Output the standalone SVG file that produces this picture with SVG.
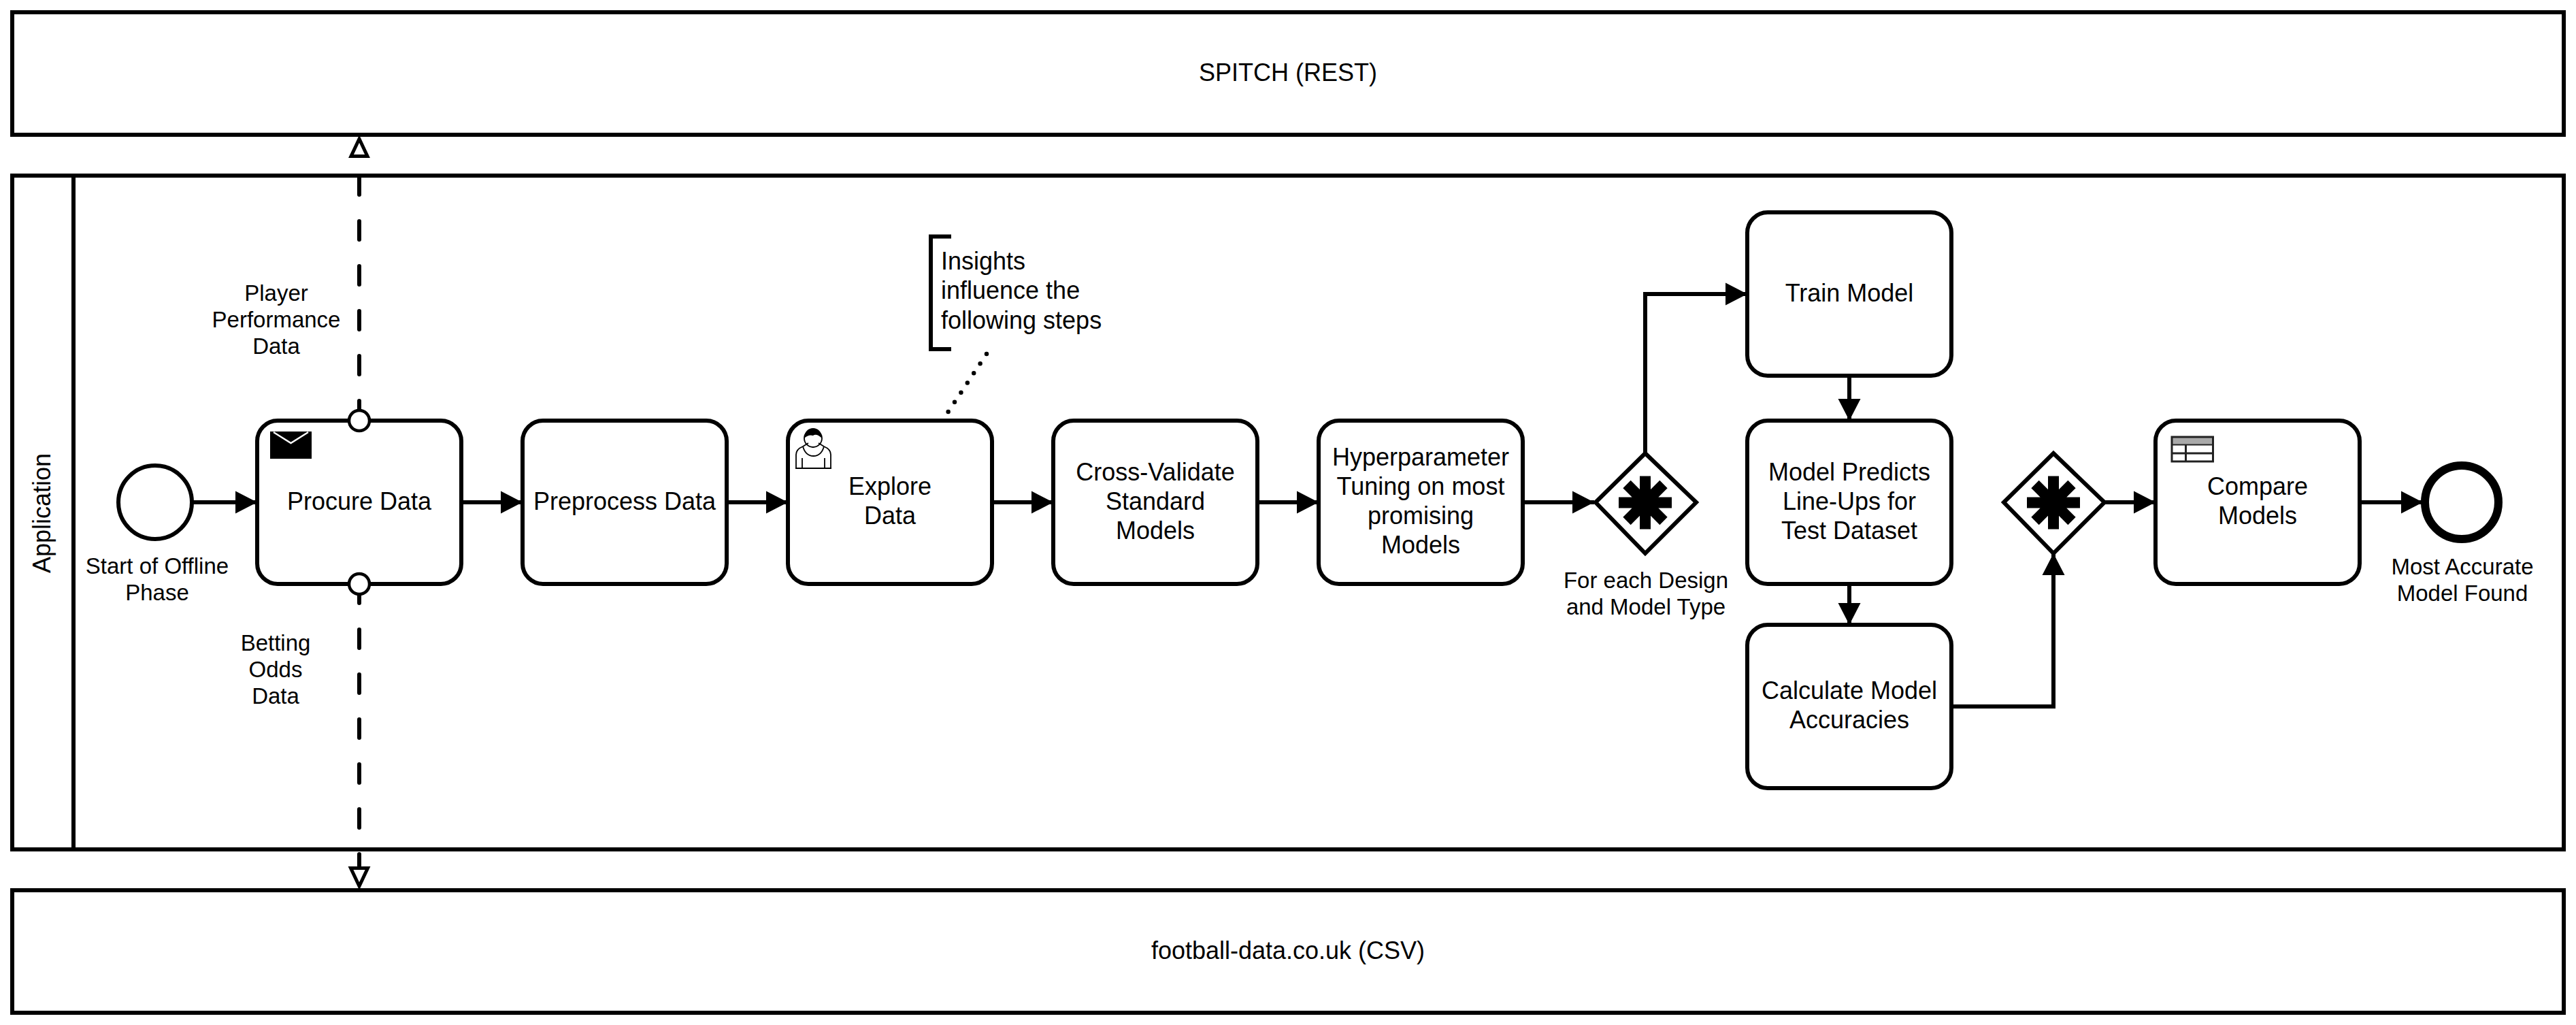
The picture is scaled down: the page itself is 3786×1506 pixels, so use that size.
<svg xmlns="http://www.w3.org/2000/svg" xmlns:xlink="http://www.w3.org/1999/xlink" width="3786" height="1506" viewBox="0 0 3786 1506">
<style>
text{font-family:"Liberation Sans",Arial,sans-serif;fill:#000;text-anchor:middle}
.t{font-size:36px}
.l{font-size:33px}
.note{text-anchor:start}
.box{fill:#fff;stroke:#000;stroke-width:6}
.task{fill:#fff;stroke:#000;stroke-width:6}
.flow{fill:none;stroke:#000;stroke-width:6;stroke-linejoin:miter}
.head{fill:#000;stroke:none}
.msg{fill:none;stroke:#000;stroke-width:6;stroke-linecap:round;stroke-dasharray:27 39}
.open{fill:#fff;stroke:#000;stroke-width:5;stroke-miterlimit:10}
.port{fill:#fff;stroke:#000;stroke-width:4.5}
.ic{fill:none;stroke:#000;stroke-width:1.8}
</style>
<defs>
<marker id="arrow" markerUnits="userSpaceOnUse" markerWidth="34" markerHeight="35" refX="32" refY="17" orient="auto"><path class="head" d="M0 0.500L32 17L0 33.500Z"/></marker>
<g id="star" stroke="#000" stroke-width="16" fill="none"><path d="M-39 0H39M0 -39V39M-27 -27L27 27M-27 27L27 -27"/></g>
</defs>
<rect width="3786" height="1506" fill="#fff"/>
<g id="pool-spitch"><rect class="box" x="18" y="18" width="3750" height="180"/><text class="t" x="1893" y="119">SPITCH (REST)</text></g>
<g id="pool-football"><rect class="box" x="18" y="1308" width="3750" height="180"/><text class="t" x="1893" y="1409">football-data.co.uk (CSV)</text></g>
<g id="pool-application"><rect class="box" x="18" y="258" width="3750" height="990"/><path class="flow" d="M108 258V1248"/><text class="t" transform="translate(74 754) rotate(-90)">Application</text></g>
<g id="connectors">
<path class="flow" marker-end="url(#arrow)" d="M282 738H378"/>
<path class="flow" marker-end="url(#arrow)" d="M678 738H768"/>
<path class="flow" marker-end="url(#arrow)" d="M1068 738H1158"/>
<path class="flow" marker-end="url(#arrow)" d="M1458 738H1548"/>
<path class="flow" marker-end="url(#arrow)" d="M1848 738H1938"/>
<path class="flow" marker-end="url(#arrow)" d="M2238 738H2343"/>
<path class="flow" marker-end="url(#arrow)" d="M2418 666V432H2568"/>
<path class="flow" marker-end="url(#arrow)" d="M2718 552V618"/>
<path class="flow" marker-end="url(#arrow)" d="M2718 858V918"/>
<path class="flow" marker-end="url(#arrow)" d="M2868 1038H3018V813"/>
<path class="flow" marker-end="url(#arrow)" d="M3093 738H3168"/>
<path class="flow" marker-end="url(#arrow)" d="M3468 738H3561"/>
<path class="msg" d="M528 259V601"/>
<path class="msg" style="stroke-dasharray:none" d="M528 873V886"/>
<path class="msg" d="M528 925V1272"/>
<polygon class="open" points="528,204 540,229.500 516,229.500"/>
<polygon class="open" points="528,1302 540.500,1275.500 515.500,1275.500"/>
<path fill="none" stroke="#000" stroke-width="6.500" stroke-linecap="round" stroke-dasharray="0 17" d="M1450 520L1387 615"/>
</g>
<g id="start"><circle cx="228" cy="738" r="54" fill="#fff" stroke="#000" stroke-width="6"/><text class="l" x="231" y="843">Start of Offline</text><text class="l" x="231" y="882">Phase</text></g>
<g id="procure"><rect class="task" x="378" y="618" width="300" height="240" rx="30"/>
<rect x="397" y="634" width="61" height="40" fill="#000"/><path d="M402 635L427.500 651L453 635" fill="none" stroke="#fff" stroke-width="2.500"/>
<text class="t" x="528" y="749">Procure Data</text>
<circle class="port" cx="528" cy="618" r="15"/><circle class="port" cx="528" cy="858" r="15"/></g>
<g id="label-player"><text class="l" x="406" y="442">Player</text><text class="l" x="406" y="481">Performance</text><text class="l" x="406" y="520">Data</text></g>
<g id="label-betting"><text class="l" x="405" y="956">Betting</text><text class="l" x="405" y="995">Odds</text><text class="l" x="405" y="1034">Data</text></g>
<g id="preprocess"><rect class="task" x="768" y="618" width="300" height="240" rx="30"/><text class="t" x="918" y="749">Preprocess Data</text></g>
<g id="explore"><rect class="task" x="1158" y="618" width="300" height="240" rx="30"/>
<path class="ic" d="M1170 688V668Q1170 660 1180 656L1188 651M1221 688V668Q1221 660 1211 656L1203 651M1169 688H1222M1179 688V673M1212 688V673"/>
<path class="ic" d="M1180 656Q1184 670 1195.500 670Q1207 670 1211 656"/>
<circle class="ic" cx="1195" cy="644" r="13"/>
<path d="M1182 644C1182 624 1208 624 1208 644Q1200 636 1195 640Q1188 638 1182 644Z" fill="#000"/>
<text class="t" x="1308" y="727">Explore</text><text class="t" x="1308" y="770">Data</text></g>
<g id="annotation"><path class="flow" d="M1398 347.500H1368V513H1398"/><text class="t note" x="1383" y="396">Insights</text><text class="t note" x="1383" y="439">influence the</text><text class="t note" x="1383" y="483">following steps</text></g>
<g id="cross-validate"><rect class="task" x="1548" y="618" width="300" height="240" rx="30"/><text class="t" x="1698" y="706">Cross-Validate</text><text class="t" x="1698" y="749">Standard</text><text class="t" x="1698" y="792">Models</text></g>
<g id="hyperparameter"><rect class="task" x="1938" y="618" width="300" height="240" rx="30"/><text class="t" x="2088" y="684">Hyperparameter</text><text class="t" x="2088" y="727">Tuning on most</text><text class="t" x="2088" y="770">promising</text><text class="t" x="2088" y="813">Models</text></g>
<g id="gateway-split"><polygon class="task" points="2418,666 2493,738 2418,813 2345,738"/><use xlink:href="#star" href="#star" x="2418" y="738.500"/><text class="l" x="2419" y="864">For each Design</text><text class="l" x="2419" y="903">and Model Type</text></g>
<g id="train"><rect class="task" x="2568" y="312" width="300" height="240" rx="30"/><text class="t" x="2718" y="443">Train Model</text></g>
<g id="predict"><rect class="task" x="2568" y="618" width="300" height="240" rx="30"/><text class="t" x="2718" y="706">Model Predicts</text><text class="t" x="2718" y="749">Line-Ups for</text><text class="t" x="2718" y="792">Test Dataset</text></g>
<g id="accuracies"><rect class="task" x="2568" y="918" width="300" height="240" rx="30"/><text class="t" x="2718" y="1027">Calculate Model</text><text class="t" x="2718" y="1070">Accuracies</text></g>
<g id="gateway-join"><polygon class="task" points="3018,666 3093,738 3018,813 2945,738"/><use xlink:href="#star" href="#star" x="3018" y="738.500"/></g>
<g id="compare"><rect class="task" x="3168" y="618" width="300" height="240" rx="30"/>
<rect x="3192" y="642" width="60.500" height="36" fill="#fff" stroke="#222" stroke-width="3"/><rect x="3192.500" y="642.500" width="59.500" height="11" fill="#a9a9a9" stroke="#222" stroke-width="2"/><path d="M3192 666H3252.500M3212.500 654V678" fill="none" stroke="#222" stroke-width="3"/>
<text class="t" x="3318" y="727">Compare</text><text class="t" x="3318" y="770">Models</text></g>
<g id="end"><circle cx="3618" cy="738" r="54" fill="#fff" stroke="#000" stroke-width="12"/><text class="l" x="3619" y="844">Most Accurate</text><text class="l" x="3619" y="883">Model Found</text></g>
</svg>
